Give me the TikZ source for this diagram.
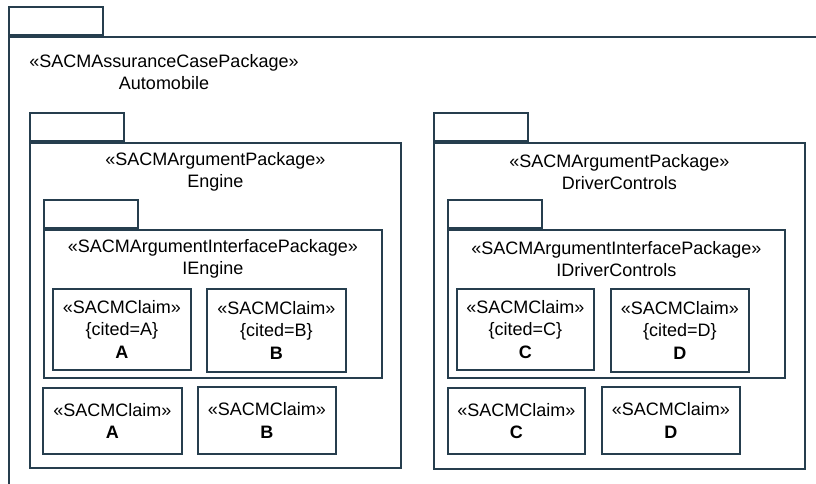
\documentclass[tikz,border=0pt]{standalone}
\usepackage{fontspec}
\setmainfont{Liberation Sans}
\usetikzlibrary{
    positioning     % tikz's library for relative placement
}
\newcommand{\px}{0.75pt}
\definecolor{pkgline}{RGB}{38,62,78}
\tikzset{
    pkg body/.style={draw=pkgline, line width=1.4pt, anchor=north west, inner sep=0pt},
    pkg tab/.style={draw=pkgline, line width=1.4pt, anchor=south west, inner sep=0pt,
        minimum width=94*\px, minimum height=28*\px},
    pkg title/.style={align=center, inner sep=0pt},
    claim/.style={draw=pkgline, line width=1.4pt, anchor=north west, align=center, inner sep=0pt}
}

\begin{document}
\begin{tikzpicture}[x=\px, y=-\px, font=\fontsize{13.5}{17}\selectfont]
        \clip (0,0) rectangle (816,484);

        % package Automobile
        \node[pkg body, minimum width=900*\px, minimum height=500*\px] (auto) at (8,36) {};
        \node[pkg tab] (auto tab) at (auto.north west) {};
        \node[pkg title] (auto title) at (164,72) {«SACMAssuranceCasePackage»\\Automobile};

        % package Engine
        \node[pkg body, minimum width=371*\px, minimum height=325*\px] (engine) at (29,142) {};
        \node[pkg tab] (engine tab) at (engine.north west) {};
        \node[pkg title] (engine title) at ([yshift=-30*\px]engine.north) {«SACMArgumentPackage»\\Engine};

        % interface package IEngine
        \node[pkg body, minimum width=338*\px, minimum height=148*\px] (iengine) at (43,229) {};
        \node[pkg tab] (iengine tab) at (iengine.north west) {};
        \node[pkg title] (iengine title) at ([yshift=-30*\px]iengine.north) {«SACMArgumentInterfacePackage»\\IEngine};

        % claims of Engine
        \node[claim, minimum width=138*\px, minimum height=81*\px] (iengA) at (52,288) {«SACMClaim»\\\{cited=A\}\\\textbf{A}};
        \node[claim, minimum width=139*\px, minimum height=83*\px] (iengB) at (206,288) {«SACMClaim»\\\{cited=B\}\\\textbf{B}};
        \node[claim, minimum width=139*\px, minimum height=66*\px] (engA) at (42,387) {«SACMClaim»\\\textbf{A}};
        \node[claim, minimum width=138*\px, minimum height=67*\px] (engB) at (197,386) {«SACMClaim»\\\textbf{B}};

        % package DriverControls
        \node[pkg body, minimum width=371*\px, minimum height=326*\px] (drivctl) at (433,142) {};
        \node[pkg tab] (drivctl tab) at (drivctl.north west) {};
        \node[pkg title] (drivctl title) at ([yshift=-30*\px]drivctl.north) {«SACMArgumentPackage»\\DriverControls};

        % interface package IDriverControls
        \node[pkg body, minimum width=337*\px, minimum height=148*\px] (idrivctl) at (447,229) {};
        \node[pkg tab] (idrivctl tab) at (idrivctl.north west) {};
        \node[pkg title] (idrivctl title) at ([yshift=-30*\px]idrivctl.north) {«SACMArgumentInterfacePackage»\\IDriverControls};

        % claims of DriverControls
        \node[claim, minimum width=137*\px, minimum height=81*\px] (idcC) at (456,288) {«SACMClaim»\\\{cited=C\}\\\textbf{C}};
        \node[claim, minimum width=138*\px, minimum height=83*\px] (idcD) at (610,288) {«SACMClaim»\\\{cited=D\}\\\textbf{D}};
        \node[claim, minimum width=137*\px, minimum height=66*\px] (dcC) at (447,387) {«SACMClaim»\\\textbf{C}};
        \node[claim, minimum width=138*\px, minimum height=67*\px] (dcD) at (601,386) {«SACMClaim»\\\textbf{D}};
    \end{tikzpicture}
\end{document}
